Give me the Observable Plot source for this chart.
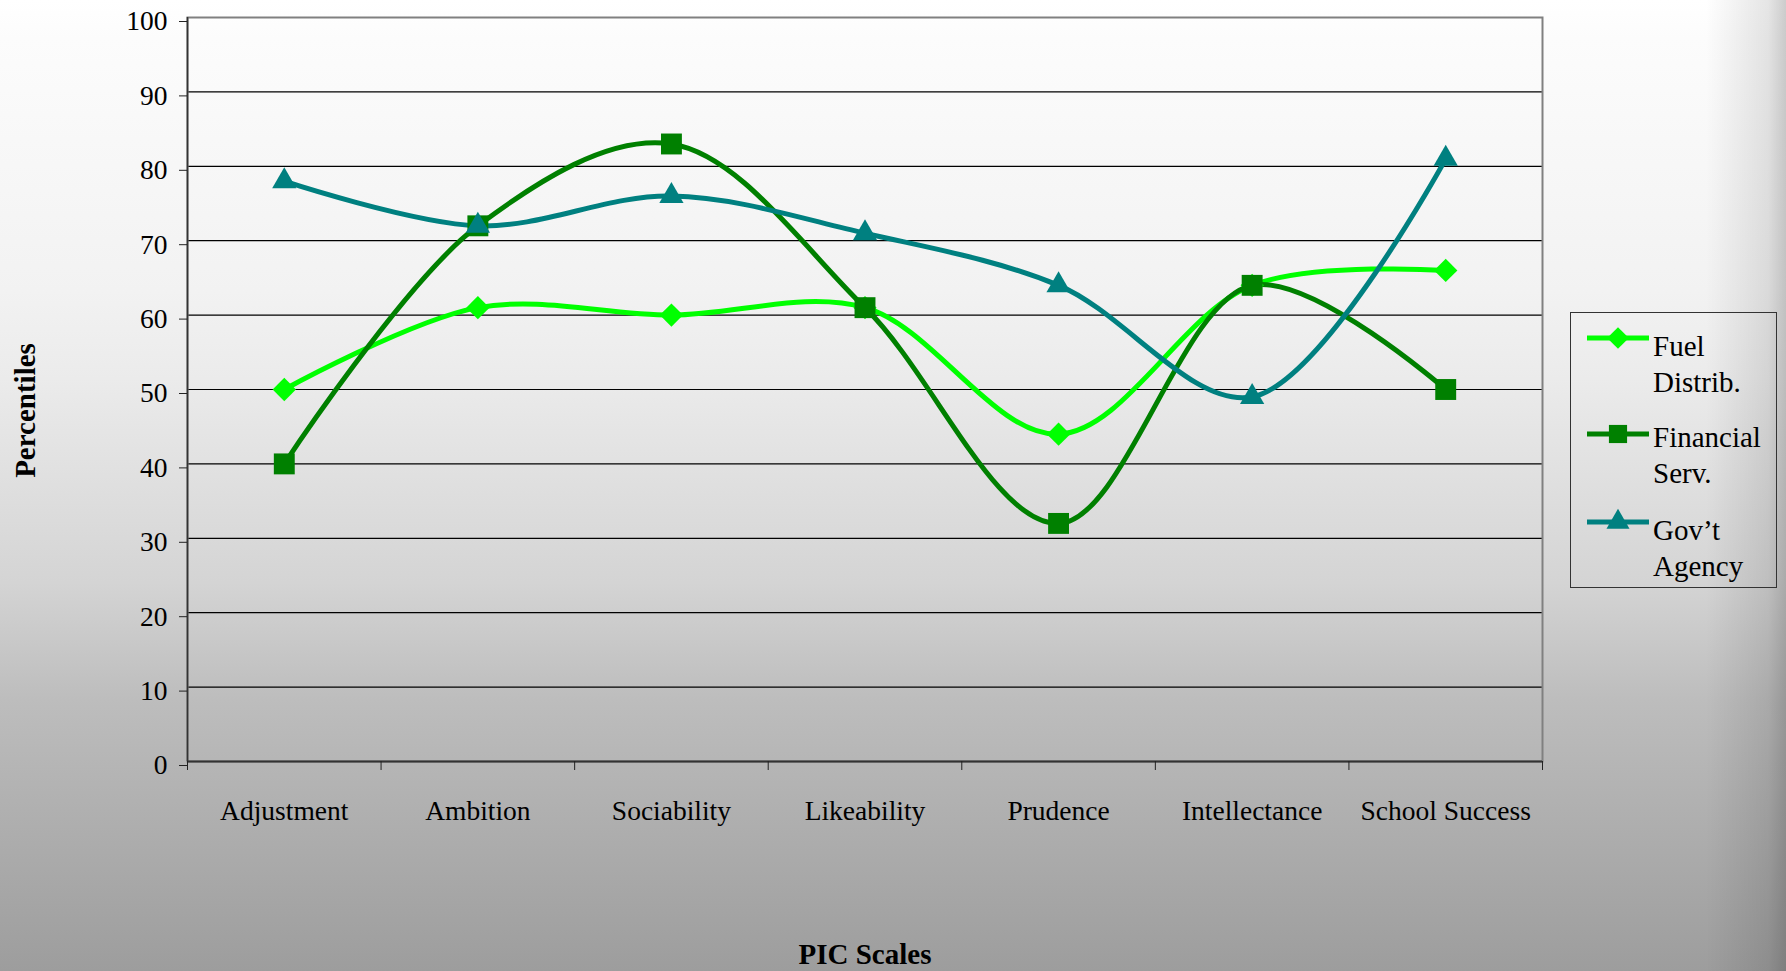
<!DOCTYPE html>
<html><head><meta charset="utf-8">
<script src="https://cdn.jsdelivr.net/npm/d3@7"></script>
<script src="https://cdn.jsdelivr.net/npm/@observablehq/plot@0.6"></script>
<style>
html,body{margin:0;padding:0;}
body{width:1786px;height:971px;overflow:hidden;position:relative;
  background:
    linear-gradient(to right, rgba(0,0,0,0) 0%, rgba(0,0,0,0) 95.5%, rgba(0,0,0,0.1) 99%, rgba(0,0,0,0.2) 100%),
    linear-gradient(to bottom, #ffffff 0%, #fcfcfc 4%, #f2f2f2 30%, #ebebeb 39%, #d4d4d4 60%, #bdbdbd 72%, #9d9d9d 100%);
  font-family:"Liberation Serif","Times New Roman",serif;}
#chart{position:absolute;left:0;top:0;}
#chart svg{background:transparent;}
g[aria-label="x-axis label"] text, g[aria-label="y-axis label"] text{font-weight:bold;font-size:29px;}
#legend{position:absolute;left:1570px;top:312px;width:205px;height:274px;border:1px solid #333;box-sizing:content-box;}
.item{position:absolute;left:0;width:205px;}
.item svg{position:absolute;left:16px;}
.item .txt{position:absolute;left:82px;font-size:29px;line-height:36px;color:#000;white-space:nowrap;}
</style>
</head><body>
<div id="chart"></div>
<div id="legend"></div>
<script>
const categories = ["Adjustment","Ambition","Sociability","Likeability","Prudence","Intellectance","School Success"];
const fuelDistrib   = [50, 61, 60, 61, 44, 64, 66];
const financialServ = [40, 72, 83, 61, 32, 64, 50];
const govtAgency    = [78, 72, 76, 71, 64, 49, 81];
const seriesNames = ["Fuel Distrib.", "Financial Serv.", "Gov’t Agency"];
const seriesLegendLines = [["Fuel","Distrib."],["Financial","Serv."],["Gov’t","Agency"]];
const seriesColors = ["#00ff00", "#008000", "#008080"];
const seriesSymbols = ["diamond2", "square", "triangle"];
const yTicks = [0,10,20,30,40,50,60,70,80,90,100];

const seriesValues = [fuelDistrib, financialServ, govtAgency];
const rows = [];
seriesValues.forEach((vals, s) => vals.forEach((v, i) => rows.push({series: seriesNames[s], idx: i + 0.5, cat: categories[i], value: v})));

const boundaries = d3.range(0, categories.length + 1);
const centers = categories.map((c, i) => i + 0.5);

const marks = [
  Plot.ruleY(yTicks.filter(t => t > 0 && t < 100), {stroke: "#000", strokeWidth: 1.2}),
  Plot.frame({stroke: "#808080", strokeWidth: 2}),
  Plot.ruleX([0], {stroke: "#333", strokeWidth: 1.6}),
  Plot.ruleY([0], {stroke: "#333", strokeWidth: 2}),
  Plot.axisY({ticks: yTicks, tickSize: 8, tickPadding: 12, dy: 4, label: "Percentiles", labelAnchor: "center", labelOffset: 173, labelArrow: "none"}),
  Plot.axisX({ticks: boundaries, tickSize: 9, tickFormat: () => "", label: null}),
  Plot.axisX({ticks: centers, tickSize: 0, tickPadding: 39, tickFormat: d => categories[d - 0.5], label: "PIC Scales", labelAnchor: "center", labelOffset: 202, labelArrow: "none"})
];
seriesNames.forEach((name, s) => {
  const data = rows.filter(r => r.series === name);
  marks.push(Plot.line(data, {x: "idx", y: "value", stroke: seriesColors[s], strokeWidth: 5, curve: "catmull-rom"}));
});
seriesNames.forEach((name, s) => {
  const data = rows.filter(r => r.series === name);
  const r = seriesSymbols[s] === "diamond2" ? 10.5 : seriesSymbols[s] === "square" ? 11.8 : 9;
  marks.push(Plot.dot(data, {x: "idx", y: "value", symbol: () => seriesSymbols[s], fill: seriesColors[s], stroke: "none", r}));
});

const chart = Plot.plot({
  width: 1786,
  height: 971,
  marginLeft: 187,
  marginRight: 244,
  marginTop: 17,
  marginBottom: 210,
  x: {type: "linear", domain: [0, categories.length]},
  y: {domain: [0, 100]},
  symbol: {type: "identity"},
  style: {fontSize: "27.5px", fontFamily: "'Liberation Serif','Times New Roman',serif", color: "#222", background: "transparent", overflow: "visible"},
  marks
});
document.getElementById("chart").appendChild(chart);
d3.select(chart).selectAll('g[aria-label="y-axis label"] text').attr("dx", "-21").style("fill", "#000");
d3.select(chart).selectAll('g[aria-label="x-axis label"] text').style("fill", "#000");
d3.select(chart).selectAll('g[aria-label="y-axis tick label"] text, g[aria-label="x-axis tick label"] text').style("fill", "#000");

// legend
const legend = d3.select("#legend");
const swTops = [25, 121, 209];
const txtTops = [15, 106, 199];
seriesNames.forEach((name, s) => {
  const item = legend.append("div").attr("class", "item").style("top", "0px");
  const svg = item.append("svg").attr("width", 64).attr("height", 30).style("top", (swTops[s] - 15) + "px");
  svg.append("line").attr("x1", 0).attr("x2", 62).attr("y1", 15).attr("y2", 15).attr("stroke", seriesColors[s]).attr("stroke-width", 5);
  const sym = seriesSymbols[s] === "diamond2" ? d3.symbolDiamond2 : seriesSymbols[s] === "square" ? d3.symbolSquare : d3.symbolTriangle;
  const size = seriesSymbols[s] === "diamond2" ? 300 : seriesSymbols[s] === "square" ? 330 : 230;
  svg.append("path").attr("transform", "translate(31,15)").attr("d", d3.symbol(sym, size)()).attr("fill", seriesColors[s]);
  const t = item.append("div").attr("class", "txt").style("top", txtTops[s] + "px");
  seriesLegendLines[s].forEach(l => t.append("div").text(l));
});
</script>
</body></html>
